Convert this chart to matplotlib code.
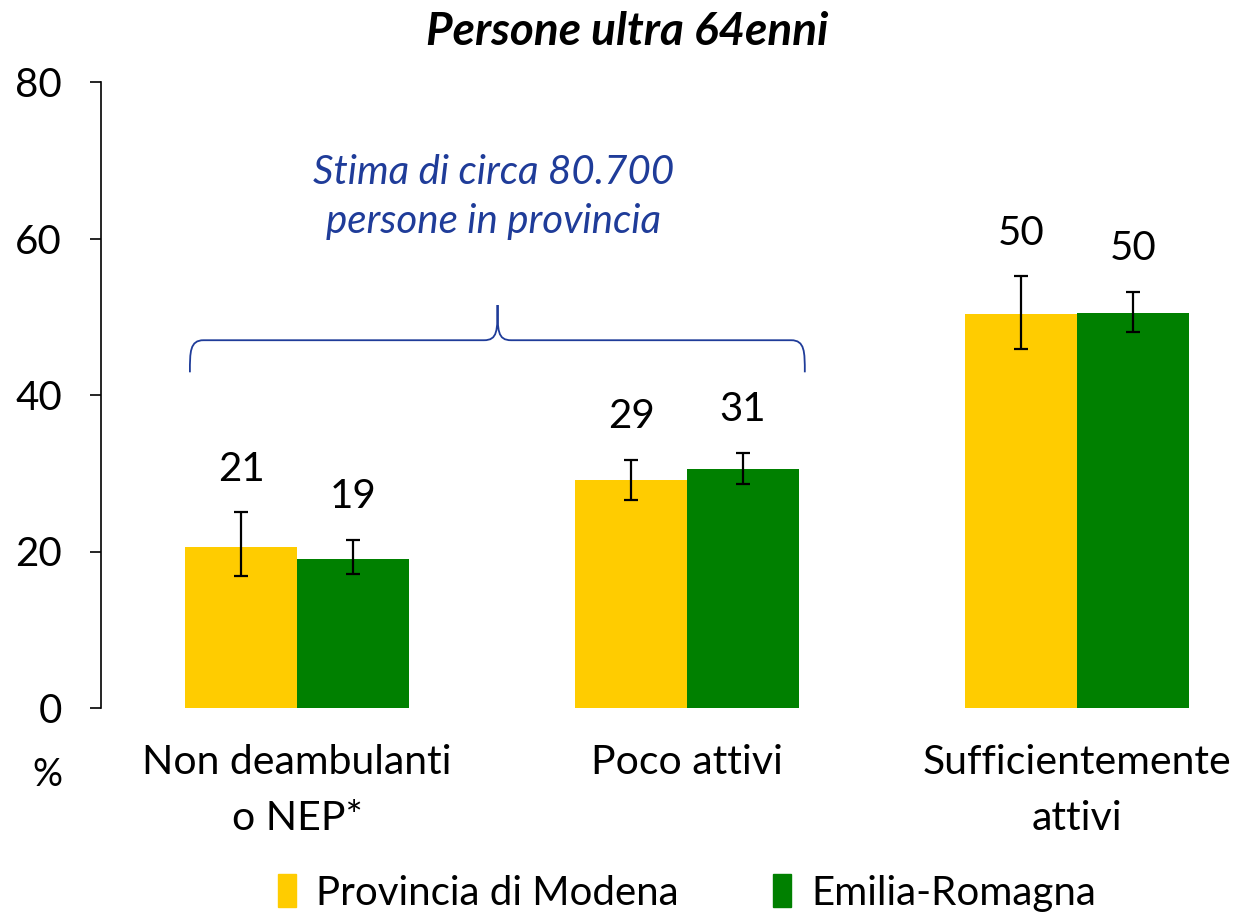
import matplotlib
matplotlib.use("Agg")
import matplotlib.pyplot as plt
from matplotlib.patches import Patch
from matplotlib.path import Path
from matplotlib.patches import PathPatch
import numpy as np

plt.rcParams['font.family'] = ['Lato', 'DejaVu Sans']

categories = ["Non deambulanti\no NEP*", "Poco attivi", "Sufficientemente\nattivi"]
series_names = ["Provincia di Modena", "Emilia-Romagna"]
modena = [20.6, 29.1, 50.4]
modena_lo = [16.9, 26.6, 45.9]
modena_hi = [25.0, 31.7, 55.2]
er = [19.0, 30.5, 50.5]
er_lo = [17.1, 28.6, 48.0]
er_hi = [21.5, 32.6, 53.2]
labels_mo = ["21", "29", "50"]
labels_er = ["19", "31", "50"]
yticks = [0, 20, 40, 60, 80]
title = "Persone ultra 64enni"
note = "Stima di circa 80.700\npersone in provincia"

YELLOW = "#FFCC00"
GREEN = "#008000"
BLUE = "#1F3C99"

fig = plt.figure(figsize=(12.38, 9.14), dpi=100)
ax = fig.add_axes([101/1238, 1-708/914, 1-101/1238, (708-82)/914])

x = np.arange(len(categories))
w = 0.287
ax.bar(x - w/2, modena, w, color=YELLOW, zorder=2)
ax.bar(x + w/2, er, w, color=GREEN, zorder=2)

for xs, vals, lo, hi, labs in [(x - w/2, modena, modena_lo, modena_hi, labels_mo),
                               (x + w/2, er, er_lo, er_hi, labels_er)]:
    vals = np.array(vals); lo = np.array(lo); hi = np.array(hi)
    ax.errorbar(xs, vals, yerr=[vals - lo, hi - vals], fmt='none', ecolor='black',
                elinewidth=1.6, capsize=5, capthick=1.6, zorder=3)
    for xi, h, lab in zip(xs, hi, labs):
        ax.annotate(lab, (xi, h), xytext=(0, 31), textcoords='offset points',
                    ha='center', va='center', fontsize=29, color='black')

ax.set_ylim(0, 80)
ax.set_xlim(-0.503, 2.413)
ax.set_yticks(yticks)
ax.tick_params(axis='y', labelsize=29, length=8, width=1.2, direction='out', pad=20)
ax.set_xticks([])
for s in ['top', 'right', 'bottom']:
    ax.spines[s].set_visible(False)
ax.spines['left'].set_linewidth(1.2)

# category labels
for xi, c in zip(x, categories):
    ax.text(xi, -4.6, c, ha='center', va='top', fontsize=29.5, linespacing=1.62,
            transform=ax.transData, clip_on=False)
ax.text(-0.64, -8.6, "%", ha='center', va='center', fontsize=27, clip_on=False)

# title
fig.text(0.507, 1-32/914, title, ha='center', va='center', fontsize=33,
         fontweight='bold', fontstyle='italic')

# brace
xl, xr = 0 - 0.275, 1 + 0.302
xm = 0.514
y_end, y_bar, y_tip = 42.9, 47.0, 51.5
r = 0.035
verts = [(xl, y_end), (xl, y_bar - 1.5), (xl, y_bar), (xl + r, y_bar),
         (xm - r, y_bar), (xm, y_bar), (xm, y_bar + 1.2), (xm, y_tip),
         (xm, y_tip), (xm, y_bar + 1.2), (xm, y_bar), (xm + r, y_bar),
         (xr - r, y_bar), (xr, y_bar), (xr, y_bar - 1.5), (xr, y_end)]
codes = [Path.MOVETO, Path.CURVE4, Path.CURVE4, Path.CURVE4,
         Path.LINETO, Path.CURVE4, Path.CURVE4, Path.CURVE4,
         Path.MOVETO, Path.CURVE4, Path.CURVE4, Path.CURVE4,
         Path.LINETO, Path.CURVE4, Path.CURVE4, Path.CURVE4]
ax.add_patch(PathPatch(Path(verts, codes), fill=False, edgecolor=BLUE, lw=1.3, zorder=4))
ax.text(xm - 0.01, 65.3, note, ha='center', va='center', fontsize=29, fontstyle='italic',
        color=BLUE, linespacing=1.4)

# legend
handles = [Patch(color=YELLOW), Patch(color=GREEN)]
fig.legend(handles, series_names, loc='center', bbox_to_anchor=(0.555, 1-893/914),
           ncol=2, frameon=False, fontsize=29, handlelength=0.45, handleheight=0.85,
           handletextpad=0.5, columnspacing=2.35, borderpad=0)

fig.savefig("out.png", dpi=100)
